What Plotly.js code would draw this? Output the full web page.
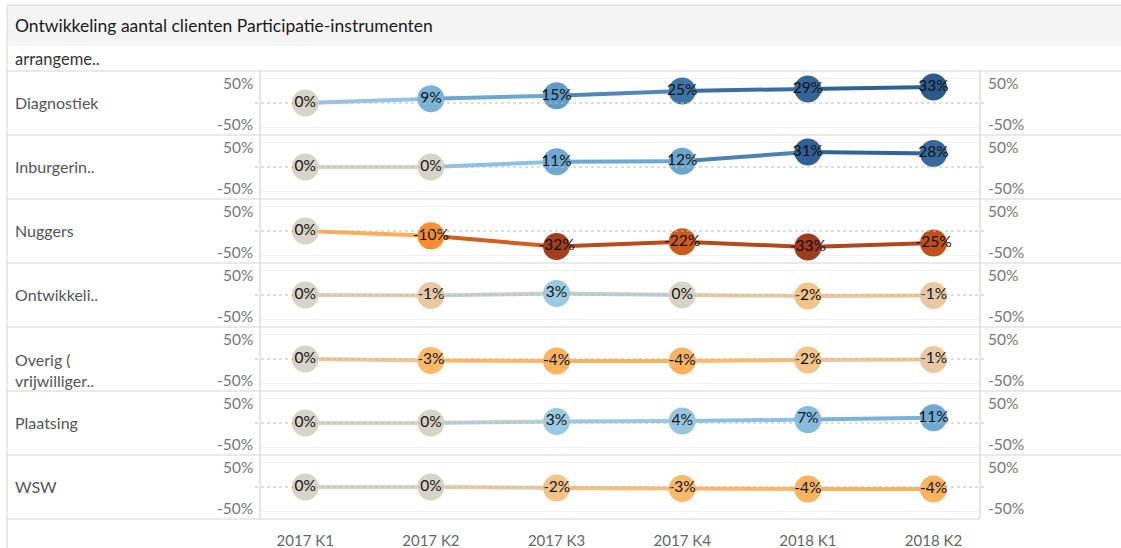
<!DOCTYPE html>
<html>
<head>
<meta charset="utf-8">
<script src="https://cdn.plot.ly/plotly-3.0.1.min.js"></script>
<style>html,body{margin:0;padding:0;background:#fff;}#chart{width:1121px;height:548px;}</style>
</head>
<body>
<div id="chart"></div>
<script>
// ---- data ----
const categories = ['2017 K1','2017 K2','2017 K3','2017 K4','2018 K1','2018 K2'];
const rowLabels = ['Diagnostiek','Inburgerin..','Nuggers','Ontwikkeli..','Overig (<br>vrijwilliger..','Plaatsing','WSW'];
const diagnostiek = [0, 9, 15, 25, 29, 33];
const inburgering = [0, 0, 11, 12, 31, 28];
const nuggers = [0, -10, -32, -22, -33, -25];
const ontwikkeling = [0, -1, 3, 0, -2, -1];
const overig = [0, -3, -4, -4, -2, -1];
const plaatsing = [0, 0, 3, 4, 7, 11];
const wsw = [0, 0, -2, -3, -4, -4];
const series = [diagnostiek, inburgering, nuggers, ontwikkeling, overig, plaatsing, wsw];
const axisTicks = ['50%', '-50%'];
const headerText = 'arrangeme..';
const titleText = 'Ontwikkeling aantal clienten Participatie-instrumenten';

// ---- style ----
const W = 1121, H = 548;
const FONT = 'Lato, "Open Sans", sans-serif';
const px = x => x / W;
const py = y => 1 - y / H;
const ROW_TOP = 71, ROW_H = 64;
const PLOT_L = 260, PLOT_R = 980;
const YR = 66;

const stops = [
  [-33, '#a03c1c'], [-25, '#c1501b'], [-22, '#cf5a1d'], [-10, '#f88e2d'],
  [-4, '#fdb35e'], [-3, '#fdb96a'], [-2, '#f4c387'], [-1, '#e9c9a1'],
  [0, '#d7d3c6'], [3, '#9dcae3'], [7, '#84bbdf'], [11, '#6fa9d3'],
  [15, '#5f9bc9'], [25, '#3f74a7'], [29, '#34659a'], [33, '#2c5a8f']
];
const CMIN = -33, CMAX = 33;
const colorscale = stops.map(s => [(s[0] - CMIN) / (CMAX - CMIN), s[1]]);
function hex2rgb(h){return [parseInt(h.substr(1,2),16),parseInt(h.substr(3,2),16),parseInt(h.substr(5,2),16)];}
function colorAt(v){
  if (v <= stops[0][0]) return stops[0][1];
  for (let i = 1; i < stops.length; i++) {
    if (v <= stops[i][0]) {
      const a = stops[i-1], b = stops[i];
      const t = (v - a[0]) / (b[0] - a[0]);
      const ca = hex2rgb(a[1]), cb = hex2rgb(b[1]);
      const c = ca.map((x, k) => Math.round(x + (cb[k] - x) * t));
      return 'rgb(' + c.join(',') + ')';
    }
  }
  return stops[stops.length-1][1];
}

const traces = [];
const layout = {
  width: W, height: H,
  margin: {l: 0, r: 0, t: 0, b: 0},
  paper_bgcolor: '#ffffff', plot_bgcolor: 'rgba(0,0,0,0)',
  showlegend: false,
  font: {family: FONT, color: '#666'},
  shapes: [], annotations: []
};

// frame shapes
layout.shapes.push({type:'rect', xref:'paper', yref:'paper', x0:px(7), x1:1, y0:py(46), y1:py(5), fillcolor:'#f4f4f4', line:{width:0}, layer:'below'});
layout.shapes.push({type:'line', xref:'paper', yref:'paper', x0:px(7), x1:1, y0:py(5), y1:py(5), line:{color:'#d6d6d6', width:1}});
layout.shapes.push({type:'line', xref:'paper', yref:'paper', x0:px(7), x1:px(7), y0:py(5), y1:0, line:{color:'#d6d6d6', width:1}});
for (let k = 0; k <= series.length; k++) {
  const y = ROW_TOP + ROW_H * k;
  layout.shapes.push({type:'line', xref:'paper', yref:'paper', x0:px(7), x1: k === series.length ? px(PLOT_R) : 1, y0:py(y), y1:py(y), line:{color:'#d4d4d4', width:1.2}});
}
[PLOT_L, PLOT_R].forEach(x => layout.shapes.push({type:'line', xref:'paper', yref:'paper', x0:px(x), x1:px(x), y0:py(ROW_TOP), y1:py(ROW_TOP + ROW_H*series.length), line:{color:'#d4d4d4', width:1.2}}));

layout.annotations.push({xref:'paper', yref:'paper', x:px(13), y:py(25), xanchor:'left', yanchor:'middle', text:titleText, showarrow:false, font:{family:FONT, size:17.5, color:'#1a1a1a'}});
layout.annotations.push({xref:'paper', yref:'paper', x:px(13), y:py(59), xanchor:'left', yanchor:'middle', text:headerText, showarrow:false, font:{family:FONT, size:16.5, color:'#333'}});

series.forEach((vals, i) => {
  const n = i === 0 ? '' : String(i + 1);
  const top = ROW_TOP + ROW_H * i;
  layout['xaxis' + n] = {
    domain: [px(PLOT_L), px(PLOT_R)], anchor: 'y' + n, type: 'category',
    categoryorder: 'array', categoryarray: categories,
    range: [-0.36, 5.37], showgrid: false, zeroline: false, showline: false, ticks: '',
    showticklabels: i === series.length - 1, tickfont: {family: FONT, size: 15, color: '#666'},
    ticklabelstandoff: 11, fixedrange: true
  };
  layout['yaxis' + n] = {
    domain: [py(top + ROW_H), py(top)], anchor: 'x' + n, range: [-YR, YR],
    tickvals: [50, -50], showticklabels: false, ticks: '', showgrid: true, gridcolor: '#f1f1f1', gridwidth: 1,
    zeroline: false, showline: false, fixedrange: true
  };
  layout.shapes.push({type:'line', xref:'paper', yref:'y' + n, x0:px(255), x1:px(985), y0:0, y1:0, line:{color:'#bcbcbc', width:1, dash:'dot'}});
  // row label
  const multi = rowLabels[i].indexOf('<br>') >= 0;
  layout.annotations.push({xref:'paper', yref:'paper', x:px(13), y:py(top + ROW_H/2 + (multi ? 11 : -1)), xanchor:'left', yanchor:'middle', align:'left', text:rowLabels[i], showarrow:false, font:{family:FONT, size:16, color:'#555'}});
  // axis tick labels (left & right)
  [[50, -4], [-50, 3]].forEach((t, k) => {
    layout.annotations.push({xref:'paper', yref:'y' + n, x:px(255), y:t[0], yshift:t[1], xanchor:'right', yanchor:'middle', text:axisTicks[k], showarrow:false, font:{family:FONT, size:15.5, color:'#777'}});
    layout.annotations.push({xref:'paper', yref:'y' + n, x:px(986), y:t[0], yshift:t[1], xanchor:'left', yanchor:'middle', text:axisTicks[k], showarrow:false, font:{family:FONT, size:15.5, color:'#777'}});
  });
  // line segments
  for (let j = 0; j < vals.length - 1; j++) {
    traces.push({x:[categories[j], categories[j+1]], y:[vals[j], vals[j+1]], xaxis:'x' + n, yaxis:'y' + n, mode:'lines', line:{color:colorAt((vals[j] + vals[j+1]) / 2), width:4}, hoverinfo:'skip', cliponaxis:false});
  }
  traces.push({x:categories, y:vals, xaxis:'x' + n, yaxis:'y' + n, mode:'markers+text',
    text: vals.map(v => v + '%'), textposition:'middle center', textfont:{family:FONT, size:15.5, color:'#111'},
    marker:{size:27, color:vals, colorscale:colorscale, cmin:CMIN, cmax:CMAX, line:{width:0}}, cliponaxis:false, hoverinfo:'skip'});
});

Plotly.newPlot('chart', traces, layout, {displayModeBar:false, staticPlot:true});
</script>
</body>
</html>
